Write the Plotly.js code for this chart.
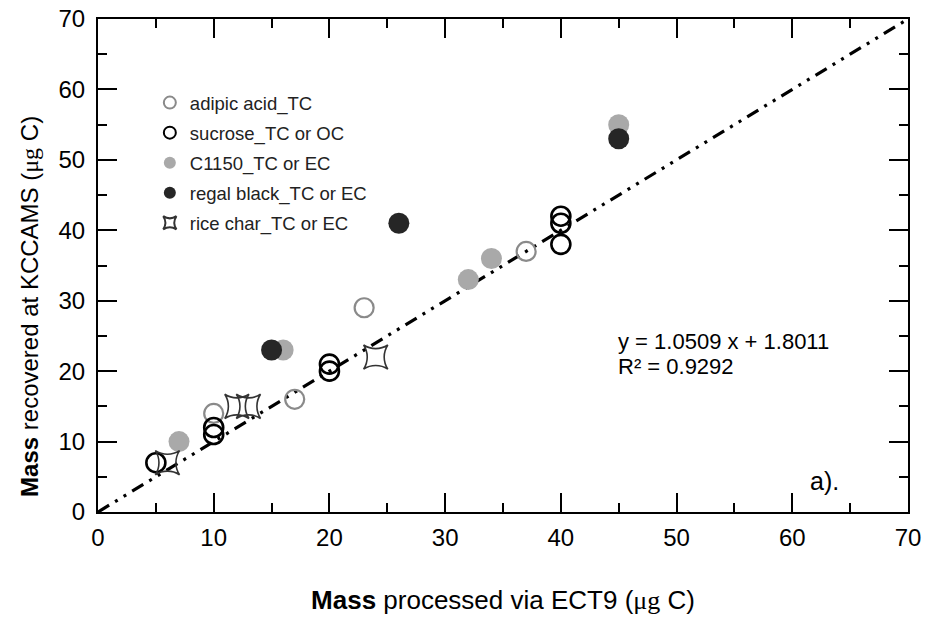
<!DOCTYPE html>
<html>
<head>
<meta charset="utf-8">
<script src="https://cdn.plot.ly/plotly-3.0.1.min.js"></script>
<style>html,body{margin:0;padding:0;background:#fff;}#chart{width:927px;height:623px;}</style>
</head>
<body>
<div id="chart"></div>
<script>
// Data
var adipicX = [10, 17, 23, 37];
var adipicY = [14, 16, 29, 37];
var sucroseX = [5, 10, 10, 20, 20, 40, 40, 40];
var sucroseY = [7, 11, 12, 20, 21, 38, 41, 42];
var c1150X = [7, 16, 32, 34, 45];
var c1150Y = [10, 23, 33, 36, 55];
var regalX = [15, 26, 45];
var regalY = [23, 41, 53];
var riceX = [6, 12, 13, 24];
var riceY = [7, 15, 15, 22];
var oneToOneX = [0, 70];
var oneToOneY = [0, 70];
var seriesNames = ['adipic acid_TC', 'sucrose_TC or OC', 'C1150_TC or EC', 'regal black_TC or EC', 'rice char_TC or EC'];
var axisTicks = [0, 10, 20, 30, 40, 50, 60, 70];

var FONT = 'Liberation Sans, Arial, sans-serif';

var traces = [
  {x: oneToOneX, y: oneToOneY, mode: 'lines', showlegend: false, hoverinfo: 'skip',
   line: {color: '#000', width: 3.2, dash: '13px,7px,3px,7px,3px,7px'}},
  {x: adipicX, y: adipicY, mode: 'markers', name: seriesNames[0], legendgroup: 'a',
   marker: {symbol: 'circle-open', size: 19, color: '#8a8a8a', line: {width: 2.2, color: '#8a8a8a'}}},
  {x: sucroseX, y: sucroseY, mode: 'markers', name: seriesNames[1], legendgroup: 'b',
   marker: {symbol: 'circle-open', size: 19, color: '#000', line: {width: 2.6, color: '#000'}}},
  {x: c1150X, y: c1150Y, mode: 'markers', name: seriesNames[2], legendgroup: 'c',
   marker: {symbol: 'circle', size: 21, color: '#a9a9a9', line: {width: 0}}},
  {x: regalX, y: regalY, mode: 'markers', name: seriesNames[3], legendgroup: 'd',
   marker: {symbol: 'circle', size: 21, color: '#262626', line: {width: 0}}},
  {x: riceX, y: riceY, mode: 'markers', name: seriesNames[4], legendgroup: 'e',
   marker: {symbol: 'star-square-open', size: 22, color: '#333', line: {width: 1.6, color: '#333'}}}
];

var axisCommon = {
  range: [0, 70], tickvals: axisTicks, ticktext: axisTicks.map(String),
  showgrid: false, zeroline: false, showline: true, linecolor: '#000', linewidth: 2,
  mirror: 'allticks', ticks: 'inside', ticklen: 19, tickwidth: 2, tickcolor: '#000',
  tickfont: {family: FONT, size: 24, color: '#000'},
  minor: {dtick: 5, ticks: 'inside', ticklen: 9, tickwidth: 2, tickcolor: '#000'}
};

var MU = '<span style="font-family:Liberation Serif">μg</span>';

var layout = {
  width: 927, height: 623,
  margin: {l: 98, r: 19, t: 19, b: 111},
  paper_bgcolor: '#fff', plot_bgcolor: '#fff',
  font: {family: FONT, color: '#000'},
  xaxis: Object.assign({}, axisCommon, {
    title: {text: '<b>Mass</b> processed via ECT9 (' + MU + ' C)',
            font: {family: FONT, size: 26, color: '#000'}, standoff: 41},
    ticklabelstandoff: 3
  }),
  yaxis: Object.assign({}, axisCommon, {ticklabelstandoff: 6}),
  showlegend: true,
  legend: {x: 0.064, y: 0.868, xanchor: 'left', yanchor: 'top',
           bgcolor: 'rgba(0,0,0,0)', borderwidth: 0,
           font: {family: FONT, size: 18.5, color: '#222'},
           itemsizing: 'constant', tracegroupgap: 3, traceorder: 'grouped'},
  annotations: [
    {x: -0.084, y: 0.418, xref: 'paper', yref: 'paper', xanchor: 'center', yanchor: 'middle', showarrow: false,
     textangle: -90, text: '<b>Mass</b> recovered at KCCAMS (' + MU + ' C)',
     font: {family: FONT, size: 24, color: '#000'}},
    {x: 0.639, y: 0.345, xref: 'paper', yref: 'paper', xanchor: 'left', yanchor: 'middle', showarrow: false,
     text: 'y = 1.0509 x + 1.8011', font: {family: FONT, size: 22, color: '#000'}},
    {x: 0.639, y: 0.296, xref: 'paper', yref: 'paper', xanchor: 'left', yanchor: 'middle', showarrow: false,
     text: 'R² = 0.9292', font: {family: FONT, size: 22, color: '#000'}},
    {x: 0.876, y: 0.063, xref: 'paper', yref: 'paper', xanchor: 'left', yanchor: 'middle', showarrow: false,
     text: 'a).', font: {family: FONT, size: 25, color: '#000'}}
  ]
};

Plotly.newPlot('chart', traces, layout, {displayModeBar: false, staticPlot: true});
</script>
</body>
</html>
